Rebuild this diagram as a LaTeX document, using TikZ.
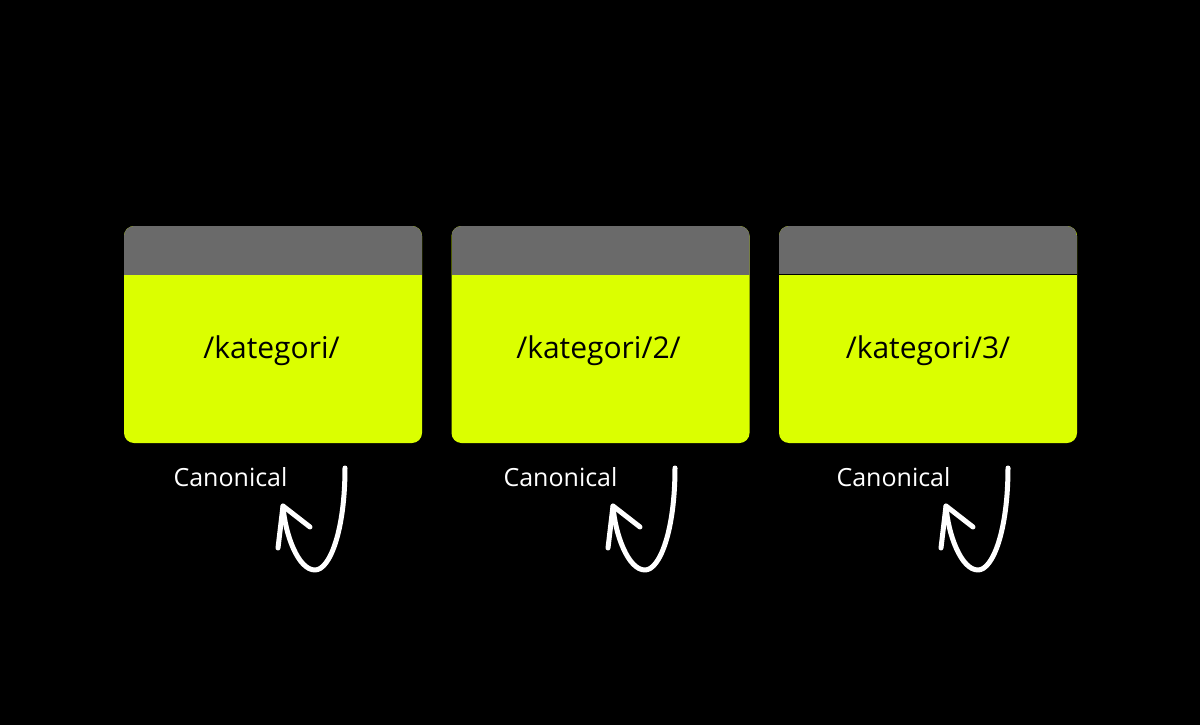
\documentclass[tikz,border=0pt]{standalone}
\usepackage{fontspec}
\setmainfont{Open Sans}
\definecolor{lime}{RGB}{219,255,0}
\definecolor{hdr}{RGB}{106,106,106}
\begin{document}
\begin{tikzpicture}[x=1pt,y=-1pt,
  card/.style={rectangle, rounded corners=10pt, fill=lime, minimum width=298pt, minimum height=217pt, inner sep=0pt,
    path picture={\fill[hdr, sharp corners] (path picture bounding box.north west) rectangle ([yshift=-49pt]path picture bounding box.north east);}},
  url/.style={font=\fontsize{30}{36}\selectfont, text=black, inner sep=0pt, anchor=base},
  canon/.style={font=\fontsize{25}{30}\selectfont, text=white, inner sep=0pt, anchor=base},
  loop/.style={draw=white, line width=5pt, line cap=round, line join=round}]
\fill[black] (0,0) rectangle (1200,725);
\useasboundingbox (0,0) rectangle (1200,725);
\foreach \i/\bx/\tx/\ax/\t in {1/273/271.5/0/{/kategori/},2/600.5/598.5/330/{/kategori/2/},3/928/928/663/{/kategori/3/}}{
  \node[card] (b\i) at (\bx,334.5) {};
  \node[url] (u\i) at (\tx,358) {\t};
  \node[canon] (c\i) at (230.5+\ax,486) {Canonical};
  \coordinate (s\i) at (345+\ax,468);
  \coordinate (m\i) at (315+\ax,570);
  \coordinate (t\i) at (283+\ax,506);
  \coordinate (r\i) at (310+\ax,527);
  \coordinate (l\i) at (278+\ax,548);
  \draw[loop] (s\i) .. controls +(0,62) and +(15,0) .. (m\i) .. controls +(-17,0) and +(2,28) .. (t\i);
  \draw[loop] (r\i) -- (t\i) -- (l\i);
}
\draw[black, line width=0.8pt] ([yshift=-49pt]b3.north west) -- ([yshift=-49pt]b3.north east);
\end{tikzpicture}
\end{document}
